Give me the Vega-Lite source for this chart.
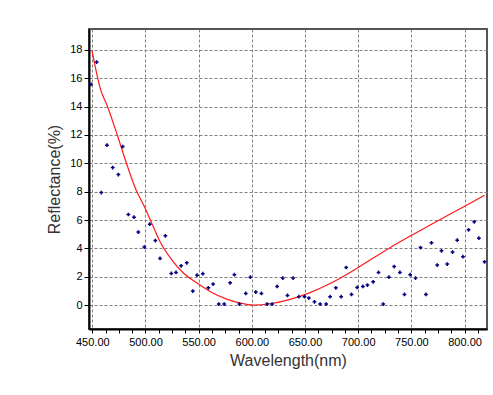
{
  "$schema": "https://vega.github.io/schema/vega-lite/v6.json",
  "width": 398,
  "height": 300,
  "autosize": {"type": "none"},
  "padding": {"left": 89, "top": 29, "right": 6, "bottom": 66},
  "background": "white",
  "config": {
    "view": {"stroke": "#555555", "strokeWidth": 2},
    "font": "Liberation Sans",
    "axis": {
      "labelFont": "Liberation Sans",
      "labelFontSize": 11,
      "labelColor": "#000000",
      "labelOverlap": false,
      "titleFont": "Liberation Sans",
      "titleFontSize": 16,
      "titleFontWeight": "normal",
      "titleColor": "#333333",
      "domainColor": "#000000",
      "domainWidth": 2,
      "tickColor": "#000000",
      "gridColor": "#808080",
      "gridDash": [3, 2],
      "gridWidth": 1,
      "gridOpacity": 1
    }
  },
  "datasets": {
    "points": [
      {"nm": 448.8, "r": 15.58}, {"nm": 454.1, "r": 17.15}, {"nm": 458.5, "r": 7.94}, {"nm": 463.8, "r": 11.28},
      {"nm": 469.2, "r": 9.70}, {"nm": 474.5, "r": 9.21}, {"nm": 478.6, "r": 11.18}, {"nm": 483.9, "r": 6.39},
      {"nm": 489.2, "r": 6.20}, {"nm": 493.3, "r": 5.15}, {"nm": 498.9, "r": 4.09}, {"nm": 504.0, "r": 5.71},
      {"nm": 509.3, "r": 4.55}, {"nm": 513.7, "r": 3.29}, {"nm": 518.7, "r": 4.89}, {"nm": 524.3, "r": 2.23},
      {"nm": 528.7, "r": 2.30}, {"nm": 533.5, "r": 2.77}, {"nm": 538.8, "r": 2.98}, {"nm": 544.5, "r": 0.99},
      {"nm": 548.5, "r": 2.11}, {"nm": 553.9, "r": 2.21}, {"nm": 559.1, "r": 1.22}, {"nm": 563.6, "r": 1.48},
      {"nm": 568.9, "r": 0.07}, {"nm": 574.0, "r": 0.07}, {"nm": 579.6, "r": 1.57}, {"nm": 583.6, "r": 2.14},
      {"nm": 588.3, "r": 0.07}, {"nm": 594.3, "r": 0.82}, {"nm": 598.6, "r": 1.97}, {"nm": 603.7, "r": 0.92},
      {"nm": 609.0, "r": 0.82}, {"nm": 614.4, "r": 0.07}, {"nm": 619.1, "r": 0.07}, {"nm": 623.8, "r": 1.31},
      {"nm": 629.1, "r": 1.90}, {"nm": 633.5, "r": 0.68}, {"nm": 638.8, "r": 1.90}, {"nm": 644.2, "r": 0.59},
      {"nm": 649.5, "r": 0.59}, {"nm": 653.6, "r": 0.49}, {"nm": 658.9, "r": 0.23}, {"nm": 664.2, "r": 0.07},
      {"nm": 669.9, "r": 0.07}, {"nm": 673.6, "r": 0.59}, {"nm": 679.0, "r": 1.22}, {"nm": 684.0, "r": 0.59},
      {"nm": 688.7, "r": 2.65}, {"nm": 693.7, "r": 0.75}, {"nm": 699.0, "r": 1.24}, {"nm": 704.4, "r": 1.31},
      {"nm": 708.7, "r": 1.41}, {"nm": 714.1, "r": 1.64}, {"nm": 719.1, "r": 2.30}, {"nm": 723.5, "r": 0.07},
      {"nm": 728.9, "r": 1.97}, {"nm": 733.8, "r": 2.72}, {"nm": 739.2, "r": 2.30}, {"nm": 743.5, "r": 0.75},
      {"nm": 748.9, "r": 2.14}, {"nm": 753.9, "r": 1.90}, {"nm": 758.6, "r": 4.06}, {"nm": 763.7, "r": 0.75},
      {"nm": 768.9, "r": 4.39}, {"nm": 774.3, "r": 2.82}, {"nm": 778.3, "r": 3.83}, {"nm": 783.7, "r": 2.89},
      {"nm": 788.7, "r": 3.74}, {"nm": 793.1, "r": 4.58}, {"nm": 798.5, "r": 3.41}, {"nm": 803.8, "r": 5.31},
      {"nm": 809.1, "r": 5.87}, {"nm": 813.5, "r": 4.72}, {"nm": 818.8, "r": 3.05}
    ],
    "fit": [
      {"nm": 449.7, "r": 17.95}, {"nm": 457.9, "r": 15.18}, {"nm": 464.1, "r": 14.05}, {"nm": 473.5, "r": 12.0},
      {"nm": 482.4, "r": 9.94}, {"nm": 491.1, "r": 8.13}, {"nm": 498.9, "r": 6.95}, {"nm": 505.9, "r": 5.78},
      {"nm": 513.7, "r": 4.46}, {"nm": 524.7, "r": 3.19}, {"nm": 535.6, "r": 2.26}, {"nm": 548.5, "r": 1.55},
      {"nm": 562.3, "r": 0.89}, {"nm": 576.4, "r": 0.42}, {"nm": 589.0, "r": 0.14}, {"nm": 601.5, "r": 0.0},
      {"nm": 617.2, "r": 0.09}, {"nm": 636.0, "r": 0.40}, {"nm": 654.8, "r": 0.88}, {"nm": 673.6, "r": 1.52},
      {"nm": 692.4, "r": 2.30}, {"nm": 711.1, "r": 3.18}, {"nm": 729.9, "r": 4.05}, {"nm": 748.9, "r": 4.87},
      {"nm": 767.7, "r": 5.65}, {"nm": 786.5, "r": 6.42}, {"nm": 805.3, "r": 7.18}, {"nm": 818.8, "r": 7.75}
    ]
  },
  "resolve": {"axis": {"x": "independent"}},
  "layer": [
    {
      "data": {"name": "fit"},
      "mark": {"type": "line", "color": "#ff1a1a", "strokeWidth": 1.2, "clip": true, "interpolate": "monotone"},
      "encoding": {
        "x": {
          "field": "nm", "type": "quantitative",
          "scale": {"domain": [446.9, 821.1], "nice": false, "zero": false},
          "axis": {
            "orient": "bottom",
            "title": "Wavelength(nm)",
            "values": [450, 500, 550, 600, 650, 700, 750, 800],
            "format": ".2f",
            "grid": true,
            "tickSize": 4,
            "labelPadding": 3,
            "titlePadding": 5
          }
        },
        "y": {
          "field": "r", "type": "quantitative",
          "scale": {"domain": [-1.69, 19.48], "nice": false, "zero": false},
          "axis": {
            "title": "Reflectance(%)",
            "values": [0, 2, 4, 6, 8, 10, 12, 14, 16, 18],
            "format": "d",
            "labelOverlap": false,
            "grid": true,
            "tickSize": 5,
            "labelPadding": 2,
            "titlePadding": 7
          }
        }
      }
    },
    {
      "data": {"name": "points"},
      "mark": {"type": "point", "shape": "cross", "filled": true, "size": 14, "color": "#000080", "opacity": 1},
      "encoding": {
        "x": {
          "field": "nm", "type": "quantitative",
          "axis": {
            "orient": "bottom",
            "title": null,
            "labels": false,
            "domain": false,
            "grid": false,
            "tickSize": 4,
            "values": [462.5, 475, 487.5, 512.5, 525, 537.5, 562.5, 575, 587.5, 612.5, 625, 637.5, 662.5, 675, 687.5, 712.5, 725, 737.5, 762.5, 775, 787.5, 812.5]
          }
        },
        "y": {
          "field": "r", "type": "quantitative",
          "axis": {
            "title": "Reflectance(%)",
            "values": [0, 2, 4, 6, 8, 10, 12, 14, 16, 18],
            "format": "d",
            "labelOverlap": false
          }
        }
      }
    }
  ]
}
